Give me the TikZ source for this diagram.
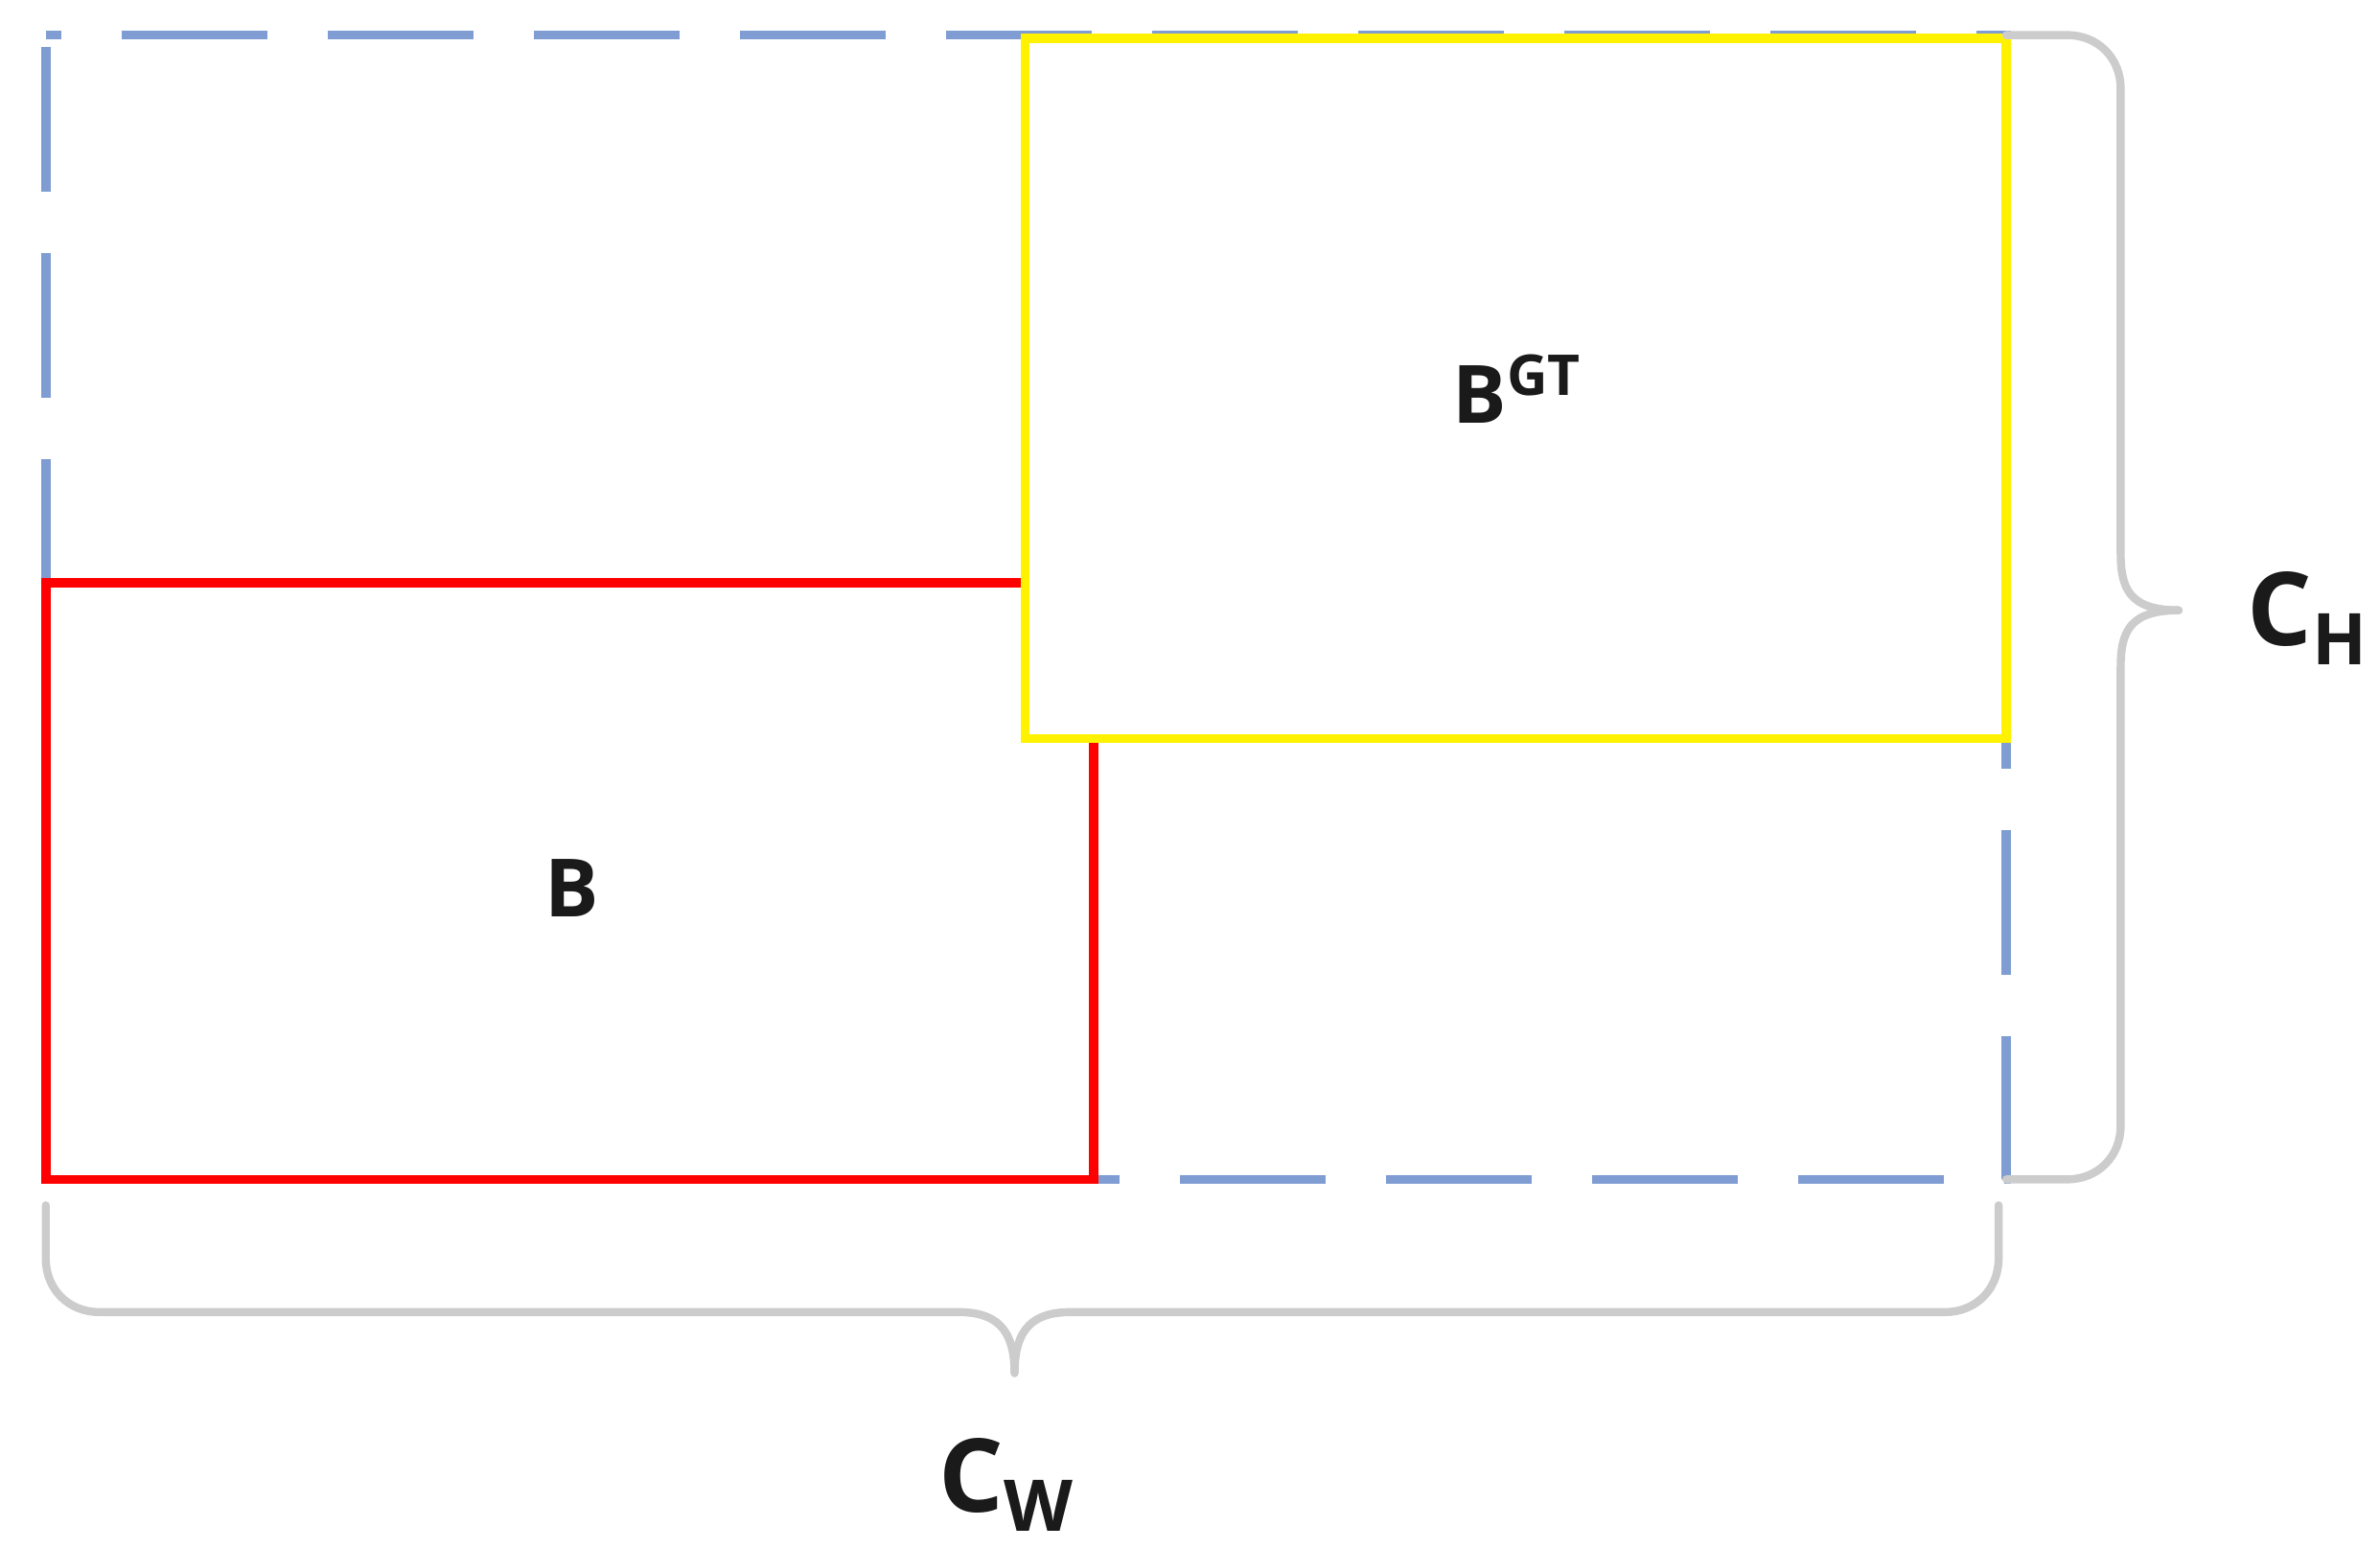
\documentclass[tikz,border=0pt]{standalone}
\usepackage{fontspec}
\setmainfont{Open Sans}
\definecolor{dblue}{RGB}{127,157,210}
\definecolor{bgray}{RGB}{204,204,204}
\definecolor{txt}{RGB}{26,26,26}
\begin{document}
\begin{tikzpicture}[x=0.01cm,y=-0.01cm,
  lbl/.style={font=\bfseries\fontsize{15}{18}\selectfont,text=txt,inner sep=0pt},
  big/.style={lbl,font=\bfseries\fontsize{19}{22}\selectfont},
  bracestyle/.style={draw=bgray,line width=1.5pt,line cap=round}]
\useasboundingbox (0,0) rectangle (1560,1015);
% blue dashed rect
\draw[dblue,line width=1.7pt,dash pattern=on 0.95cm off 0.4cm,dash phase=0.85cm] (30,23) -- (1315,23) -- (1315,773) -- (30,773) -- cycle;
% red
\draw[red,line width=1.7pt,line join=miter] (672,382) -- (30,382) -- (30,773) -- (717,773) -- (717,484);
% yellow
\draw[yellow,line width=1.7pt] (672,25) rectangle (1315,484);
\node[lbl] (b) at (375,582) {B};
\node[lbl] (bgt) at (995,255) {B$^{\mathbf{GT}}$};
% right brace
\draw[bracestyle] (1315,23) -- (1355,23) .. controls (1375,23) and (1390,38) .. (1390,58) -- (1390,362)
  .. controls (1390,385) and (1395,400) .. (1428,400);
\draw[bracestyle] (1315,773) -- (1355,773) .. controls (1375,773) and (1390,758) .. (1390,738) -- (1390,438)
  .. controls (1390,415) and (1395,400) .. (1428,400);
\node[big] (ch) at (1513,405) {C\textsubscript{H}};
% bottom brace
\draw[bracestyle] (30,790) -- (30,825) .. controls (30,845) and (45,860) .. (65,860) -- (628,860)
  .. controls (652,860) and (665,870) .. (665,900);
\draw[bracestyle] (1310,790) -- (1310,825) .. controls (1310,845) and (1295,860) .. (1275,860) -- (702,860)
  .. controls (678,860) and (665,870) .. (665,900);
\node[big] (cw) at (660,973) {C\textsubscript{W}};
\end{tikzpicture}
\end{document}
